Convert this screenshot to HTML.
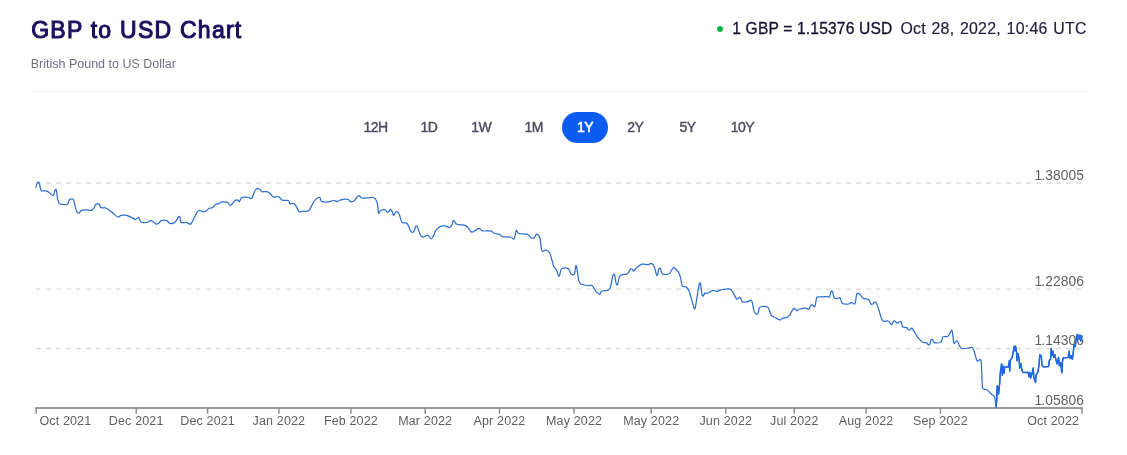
<!DOCTYPE html>
<html><head><meta charset="utf-8"><title>GBP to USD Chart</title>
<style>
html,body{margin:0;padding:0;background:#fff;}
body{width:1127px;height:455px;position:relative;overflow:hidden;font-family:"Liberation Sans",sans-serif;}
.title{position:absolute;left:31.2px;top:15.1px;font-size:23px;line-height:30px;font-weight:normal;-webkit-text-stroke:1.05px #1c0f5e;color:#1c0f5e;white-space:nowrap;letter-spacing:1.25px;}
.sub{position:absolute;left:30.7px;top:55.8px;font-size:12.5px;line-height:16px;color:#6c7080;white-space:nowrap;}
.rate{position:absolute;top:18px;font-size:16px;line-height:22px;color:#15122e;white-space:nowrap;}
.rate.a{left:732.3px;top:17.8px;font-size:15.6px;letter-spacing:0.16px;-webkit-text-stroke:0.3px #15122e;}
.rate.b{left:900.4px;top:17.5px;font-size:15.9px;letter-spacing:0.26px;word-spacing:0.9px;color:#1f1d3a;-webkit-text-stroke:0.18px #1f1d3a;}
.dot{position:absolute;left:717px;top:26px;width:6px;height:6px;border-radius:50%;background:#16b040;}
.hr{position:absolute;left:31px;top:91px;width:1056px;height:1px;background:#efeff1;}
.btn{position:absolute;top:112.4px;height:30px;line-height:30px;font-size:14px;letter-spacing:-0.55px;color:#514c63;text-align:center;width:60px;margin-left:-30px;-webkit-text-stroke:0.42px #514c63;white-space:nowrap;}
.btn.sel{color:#fff;-webkit-text-stroke:0.55px #fff;}
.pill{position:absolute;left:561.8px;top:111.8px;width:46.4px;height:30.8px;border-radius:15.4px;background:#0b5df1;}
.chart{position:absolute;left:0;top:0;}
#wrap{position:absolute;left:0;top:0;width:1127px;height:455px;will-change:transform;}
.xl{font-family:"Liberation Sans",sans-serif;font-size:12.5px;letter-spacing:0.15px;fill:#5f5f5f;}
.yl{font-family:"Liberation Sans",sans-serif;font-size:13.8px;fill:#616161;}
</style></head><body>
<div id="wrap"><div class="title">GBP to USD Chart</div>
<div class="sub">British Pound to US Dollar</div>
<div class="dot"></div>
<div class="rate a">1 GBP = 1.15376 USD</div>
<div class="rate b">Oct 28, 2022, 10:46 UTC</div>
<div class="hr"></div>
<div class="pill"></div>
<div class="btn" style="left:375.5px">12H</div>
<div class="btn" style="left:429px">1D</div>
<div class="btn" style="left:481.1px">1W</div>
<div class="btn" style="left:533.6px">1M</div>
<div class="btn sel" style="left:585px">1Y</div>
<div class="btn" style="left:635.3px">2Y</div>
<div class="btn" style="left:687.5px">5Y</div>
<div class="btn" style="left:742.5px">10Y</div>
<svg class="chart" width="1127" height="455" viewBox="0 0 1127 455">
<line x1="36.1" y1="183.0" x2="1081" y2="183.0" stroke="#dadada" stroke-width="1.45" stroke-dasharray="4.8 5.2"/>
<line x1="36.1" y1="289.1" x2="1081" y2="289.1" stroke="#dadada" stroke-width="1.45" stroke-dasharray="4.8 5.2"/>
<line x1="36.1" y1="348.5" x2="1081" y2="348.5" stroke="#dadada" stroke-width="1.45" stroke-dasharray="4.8 5.2"/>
<line x1="35.2" y1="408" x2="1083" y2="408" stroke="#9a9a9a" stroke-width="1.9"/>
<line x1="36.2" y1="408" x2="36.2" y2="413.7" stroke="#8c8c8c" stroke-width="1.5"/>
<line x1="136.2" y1="408" x2="136.2" y2="413.7" stroke="#8c8c8c" stroke-width="1.5"/>
<line x1="207.6" y1="408" x2="207.6" y2="413.7" stroke="#8c8c8c" stroke-width="1.5"/>
<line x1="278.9" y1="408" x2="278.9" y2="413.7" stroke="#8c8c8c" stroke-width="1.5"/>
<line x1="350.9" y1="408" x2="350.9" y2="413.7" stroke="#8c8c8c" stroke-width="1.5"/>
<line x1="425.2" y1="408" x2="425.2" y2="413.7" stroke="#8c8c8c" stroke-width="1.5"/>
<line x1="499.5" y1="408" x2="499.5" y2="413.7" stroke="#8c8c8c" stroke-width="1.5"/>
<line x1="574.1" y1="408" x2="574.1" y2="413.7" stroke="#8c8c8c" stroke-width="1.5"/>
<line x1="651.2" y1="408" x2="651.2" y2="413.7" stroke="#8c8c8c" stroke-width="1.5"/>
<line x1="725.8" y1="408" x2="725.8" y2="413.7" stroke="#8c8c8c" stroke-width="1.5"/>
<line x1="794.3" y1="408" x2="794.3" y2="413.7" stroke="#8c8c8c" stroke-width="1.5"/>
<line x1="866.1" y1="408" x2="866.1" y2="413.7" stroke="#8c8c8c" stroke-width="1.5"/>
<line x1="940.4" y1="408" x2="940.4" y2="413.7" stroke="#8c8c8c" stroke-width="1.5"/>
<line x1="1082" y1="408" x2="1082" y2="413.7" stroke="#8c8c8c" stroke-width="1.5"/>
<text x="39.4" y="424.6" class="xl" text-anchor="start">Oct 2021</text>
<text x="136.2" y="424.6" class="xl" text-anchor="middle">Dec 2021</text>
<text x="207.6" y="424.6" class="xl" text-anchor="middle">Dec 2021</text>
<text x="278.9" y="424.6" class="xl" text-anchor="middle">Jan 2022</text>
<text x="350.9" y="424.6" class="xl" text-anchor="middle">Feb 2022</text>
<text x="425.2" y="424.6" class="xl" text-anchor="middle">Mar 2022</text>
<text x="499.5" y="424.6" class="xl" text-anchor="middle">Apr 2022</text>
<text x="574.1" y="424.6" class="xl" text-anchor="middle">May 2022</text>
<text x="651.2" y="424.6" class="xl" text-anchor="middle">May 2022</text>
<text x="725.8" y="424.6" class="xl" text-anchor="middle">Jun 2022</text>
<text x="794.3" y="424.6" class="xl" text-anchor="middle">Jul 2022</text>
<text x="866.1" y="424.6" class="xl" text-anchor="middle">Aug 2022</text>
<text x="940.4" y="424.6" class="xl" text-anchor="middle">Sep 2022</text>
<text x="1079.2" y="424.6" class="xl" text-anchor="end">Oct 2022</text>
<text x="1034.4 1041.25 1045.2 1052.97 1060.74 1068.51 1076.28" y="179.8" class="yl">1.38005</text>
<text x="1034.4 1041.25 1045.2 1052.97 1060.74 1068.51 1076.28" y="285.8" class="yl">1.22806</text>
<text x="1034.4 1041.25 1045.2 1052.97 1060.74 1068.51 1076.28" y="344.8" class="yl">1.14306</text>
<text x="1034.4 1041.25 1045.2 1052.97 1060.74 1068.51 1076.28" y="404.8" class="yl">1.05806</text>
<defs><clipPath id="tail"><rect x="996" y="150" width="131" height="270"/></clipPath></defs>
<path d="M35.9,187.4 C36.2,186.6 37.0,183.6 37.5,182.8 C38.0,182.0 38.7,182.0 39.2,182.8 C39.7,183.6 39.9,186.4 40.3,187.7 C40.7,189.0 40.5,190.3 41.5,190.8 C42.5,191.3 44.7,190.5 46.0,190.8 C47.3,191.1 48.3,191.9 49.5,192.7 C50.7,193.5 52.2,196.0 53.1,195.7 C54.0,195.4 54.3,191.9 54.8,190.9 C55.3,189.9 55.8,188.7 56.3,189.9 C56.8,191.2 57.0,196.1 57.5,198.4 C58.0,200.7 58.4,202.7 59.3,203.7 C60.2,204.7 61.4,204.2 62.8,204.3 C64.2,204.4 66.5,205.1 67.6,204.3 C68.7,203.6 68.4,200.6 69.4,199.8 C70.4,199.1 72.5,198.6 73.5,199.8 C74.5,201.1 74.7,205.2 75.3,207.3 C75.9,209.4 76.3,211.2 77.0,212.2 C77.7,213.2 78.5,213.4 79.3,213.1 C80.0,212.8 80.2,210.8 81.5,210.3 C82.8,209.8 85.2,209.9 86.8,209.9 C88.4,209.9 90.0,210.6 91.2,210.3 C92.4,210.0 93.2,209.1 93.9,208.2 C94.7,207.2 94.8,205.3 95.7,204.6 C96.6,203.9 98.3,203.6 99.2,204.1 C100.1,204.6 100.0,207.0 101.0,207.6 C102.0,208.2 104.1,207.4 105.4,207.8 C106.7,208.2 107.7,209.0 109.0,209.9 C110.3,210.8 111.9,212.3 113.4,213.5 C114.9,214.7 116.5,216.7 117.8,217.0 C119.1,217.3 119.9,215.6 121.4,215.3 C122.9,215.0 125.1,215.0 126.7,215.3 C128.3,215.7 129.7,216.7 131.2,217.4 C132.7,218.1 134.4,219.3 135.6,219.3 C136.8,219.3 137.7,217.2 138.6,217.6 C139.5,218.0 139.5,221.2 140.9,222.0 C142.3,222.8 145.5,222.6 147.1,222.4 C148.7,222.2 149.7,220.7 150.7,220.6 C151.7,220.5 152.4,221.4 153.3,222.0 C154.2,222.6 155.5,223.9 156.4,224.1 C157.3,224.3 157.9,223.8 158.7,223.2 C159.5,222.6 160.0,221.0 161.3,220.6 C162.6,220.2 165.1,220.1 166.6,220.6 C168.1,221.1 169.0,223.2 170.2,223.6 C171.4,224.0 172.7,223.4 173.7,222.9 C174.7,222.4 175.6,221.7 176.4,220.6 C177.2,219.5 178.1,217.0 178.7,216.5 C179.3,216.0 179.6,216.6 180.0,217.6 C180.4,218.6 180.2,221.6 181.2,222.4 C182.2,223.2 184.6,222.1 186.2,222.4 C187.8,222.7 189.4,224.6 190.6,224.1 C191.8,223.6 192.3,221.6 193.3,219.7 C194.3,217.8 195.9,214.1 196.8,212.6 C197.7,211.1 197.6,210.7 198.9,210.5 C200.2,210.3 203.1,212.1 204.8,211.7 C206.5,211.3 207.9,208.9 209.2,208.2 C210.5,207.5 211.8,208.2 212.8,207.6 C213.8,207.0 214.4,205.2 215.4,204.6 C216.4,203.9 217.9,204.1 219.0,203.7 C220.1,203.2 220.4,202.1 221.7,201.9 C223.0,201.7 225.9,202.2 227.0,202.3 C228.0,202.4 227.4,202.0 228.0,202.5 C228.6,203.0 229.4,205.8 230.6,205.5 C231.8,205.2 233.9,201.4 235.1,200.5 C236.3,199.6 237.0,200.0 237.7,200.2 C238.4,200.4 238.8,202.0 239.5,201.6 C240.2,201.2 240.2,198.2 241.7,197.5 C243.2,196.8 246.7,197.4 248.4,197.5 C250.1,197.6 250.7,199.3 251.9,198.0 C253.1,196.7 254.2,191.4 255.5,189.9 C256.8,188.4 258.9,188.7 259.9,189.0 C260.9,189.3 260.5,191.2 261.7,191.7 C262.9,192.1 265.5,191.3 267.0,191.7 C268.5,192.1 269.6,193.1 270.6,194.0 C271.6,194.9 271.9,196.6 273.2,197.0 C274.5,197.4 277.1,196.1 278.6,196.6 C280.1,197.1 280.5,199.5 282.1,200.2 C283.7,200.8 287.0,199.8 288.3,200.5 C289.6,201.2 289.2,203.6 290.1,204.1 C291.0,204.6 292.6,203.0 293.6,203.4 C294.6,203.8 295.4,205.0 296.3,206.4 C297.2,207.8 298.0,210.9 299.0,211.7 C300.0,212.5 300.9,211.5 302.5,211.3 C304.1,211.2 307.2,211.6 308.7,210.8 C310.2,210.0 310.4,208.2 311.4,206.4 C312.4,204.6 313.7,201.7 314.9,200.2 C316.1,198.7 317.6,197.9 318.5,197.5 C319.4,197.1 319.8,197.3 320.3,198.0 C320.8,198.7 320.3,200.8 321.5,201.4 C322.8,202.1 326.3,202.1 328.3,201.9 C330.3,201.8 332.1,200.6 333.6,200.5 C335.1,200.4 335.9,201.7 337.1,201.6 C338.3,201.5 338.9,200.2 340.7,199.8 C342.5,199.4 346.2,199.0 347.8,199.3 C349.4,199.6 349.4,201.3 350.4,201.6 C351.4,201.9 353.0,201.8 354.0,201.1 C355.0,200.4 355.7,198.4 356.6,197.5 C357.5,196.6 358.4,195.6 359.3,195.7 C360.2,195.8 359.8,197.7 362.0,198.0 C364.2,198.3 370.4,197.3 372.6,197.5 C374.8,197.7 374.5,197.9 375.3,198.9 C376.1,199.9 376.9,201.4 377.4,203.7 C377.9,206.0 378.0,211.8 378.5,212.9 C379.0,214.0 379.5,211.0 380.6,210.5 C381.7,210.0 383.8,209.6 385.0,209.9 C386.2,210.2 386.8,212.7 387.7,212.6 C388.6,212.5 389.7,209.8 390.4,209.4 C391.1,209.1 391.3,209.5 391.8,210.5 C392.3,211.5 393.0,215.0 393.6,215.3 C394.2,215.7 394.7,213.2 395.3,212.6 C395.9,212.0 396.8,211.2 397.5,211.7 C398.2,212.1 398.9,213.5 399.6,215.3 C400.3,217.1 400.8,221.1 401.9,222.4 C403.0,223.7 405.2,222.3 406.3,222.9 C407.4,223.5 407.8,224.5 408.5,225.9 C409.2,227.3 410.0,230.2 410.8,231.2 C411.6,232.2 412.6,232.8 413.4,232.1 C414.2,231.4 415.0,227.7 415.6,226.8 C416.2,225.9 416.5,225.4 417.3,226.8 C418.1,228.2 419.6,233.7 420.6,235.4 C421.6,237.1 422.0,237.0 423.2,237.0 C424.4,237.0 426.6,235.1 427.9,235.4 C429.2,235.7 430.1,238.8 431.1,238.8 C432.1,238.8 432.8,236.9 433.7,235.4 C434.6,233.9 434.8,231.2 436.4,229.6 C437.9,228.0 440.8,225.9 443.0,225.6 C445.2,225.2 448.1,227.7 449.6,227.5 C451.1,227.3 451.6,225.5 452.2,224.3 C452.8,223.1 452.7,220.3 453.5,220.3 C454.3,220.3 455.0,223.4 457.0,224.3 C459.0,225.2 463.3,224.7 465.4,225.6 C467.5,226.5 468.3,228.5 469.4,229.6 C470.5,230.7 470.9,232.1 472.0,232.2 C473.1,232.3 474.8,230.8 476.0,230.1 C477.2,229.4 478.0,228.2 479.1,228.3 C480.2,228.4 480.7,230.5 482.6,230.9 C484.5,231.3 488.5,230.5 490.5,230.9 C492.5,231.3 492.9,232.9 494.4,233.5 C495.9,234.1 498.4,233.8 499.7,234.3 C501.0,234.8 500.5,236.2 502.3,236.7 C504.1,237.1 508.3,236.7 510.3,237.0 C512.3,237.3 513.2,239.9 514.2,238.8 C515.2,237.7 515.5,231.3 516.3,230.4 C517.0,229.5 516.9,232.8 518.7,233.5 C520.6,234.2 525.3,233.6 527.4,234.3 C529.5,235.1 530.2,237.5 531.4,238.0 C532.6,238.5 533.6,238.2 534.5,237.5 C535.4,236.8 535.7,234.1 536.6,234.1 C537.5,234.1 538.9,234.7 539.8,237.5 C540.7,240.3 540.9,248.6 541.9,250.7 C542.9,252.8 544.6,249.5 545.9,249.9 C547.2,250.3 548.5,250.5 549.8,253.3 C551.1,256.1 552.7,263.7 553.8,266.5 C554.9,269.3 555.5,268.3 556.4,269.9 C557.3,271.5 558.2,276.5 559.1,276.3 C560.0,276.1 560.2,269.9 561.7,268.6 C563.2,267.3 566.8,267.7 568.3,268.6 C569.8,269.5 569.9,273.0 570.9,273.9 C571.9,274.8 573.5,275.3 574.4,273.9 C575.3,272.5 575.5,264.5 576.2,265.7 C577.0,266.9 578.0,277.9 578.9,281.0 C579.8,284.1 580.0,283.4 581.5,284.2 C583.0,284.9 586.3,285.3 588.1,285.5 C589.9,285.7 590.8,284.5 592.1,285.5 C593.4,286.5 594.8,290.2 596.0,291.6 C597.2,293.1 598.7,293.8 599.4,294.2 C600.0,294.6 599.6,294.7 600.0,294.2 C600.4,293.7 600.5,291.6 601.8,291.0 C603.1,290.4 606.5,291.1 608.0,290.4 C609.5,289.6 609.9,288.9 610.7,286.5 C611.5,284.1 612.1,277.7 612.8,275.8 C613.4,273.9 614.1,273.7 614.6,274.9 C615.1,276.1 615.5,281.3 616.0,282.9 C616.5,284.5 617.0,285.6 617.5,284.7 C618.0,283.8 618.6,279.2 619.2,277.6 C619.9,276.0 620.0,275.5 621.4,274.9 C622.8,274.2 626.1,274.6 627.6,273.7 C629.1,272.8 629.5,269.9 630.3,269.2 C631.0,268.4 631.5,268.9 632.1,269.2 C632.7,269.5 633.1,271.2 633.8,271.0 C634.5,270.8 635.1,268.9 636.5,267.8 C637.9,266.7 640.0,264.7 641.9,264.2 C643.8,263.7 646.5,264.7 648.1,264.6 C649.7,264.5 650.6,263.0 651.6,263.4 C652.6,263.8 653.5,265.0 654.3,266.9 C655.1,268.8 656.0,273.7 656.6,274.9 C657.2,276.1 657.5,275.0 657.9,274.0 C658.3,273.0 658.3,269.6 658.8,268.7 C659.2,267.8 660.0,267.9 660.6,268.7 C661.2,269.5 661.0,272.8 662.3,273.7 C663.6,274.6 667.1,274.4 668.6,274.0 C670.1,273.6 670.4,272.1 671.2,271.0 C672.0,269.9 672.9,267.8 673.6,267.5 C674.4,267.2 674.8,268.2 675.7,269.2 C676.7,270.2 678.3,271.4 679.3,273.7 C680.3,276.0 681.1,280.8 681.6,282.9 C682.1,285.0 681.7,285.5 682.5,286.2 C683.3,286.9 685.3,286.1 686.4,286.9 C687.5,287.7 688.1,288.8 689.0,291.0 C689.9,293.2 690.9,297.1 691.7,299.9 C692.5,302.7 693.4,306.7 694.0,307.9 C694.6,309.1 694.7,309.7 695.3,307.3 C695.9,304.9 696.9,297.5 697.6,293.6 C698.3,289.7 698.9,285.4 699.4,283.8 C699.9,282.2 700.1,282.2 700.6,284.2 C701.1,286.2 701.6,294.3 702.4,295.8 C703.1,297.3 704.2,293.6 705.1,293.1 C706.0,292.7 706.4,293.6 707.7,293.1 C709.0,292.7 711.6,290.7 713.1,290.4 C714.6,290.1 715.1,291.4 716.7,291.3 C718.3,291.2 720.8,289.9 722.9,289.5 C725.0,289.1 727.6,288.6 729.1,288.8 C730.6,289.0 730.9,289.5 731.8,290.6 C732.7,291.7 733.7,293.9 734.5,295.4 C735.3,296.8 736.1,298.9 736.8,299.3 C737.5,299.7 738.2,297.8 738.9,297.6 C739.5,297.4 740.1,297.4 740.7,298.1 C741.3,298.8 741.3,301.4 742.5,302.0 C743.7,302.6 746.3,301.8 747.8,301.6 C749.3,301.4 750.7,299.2 751.7,300.8 C752.8,302.4 753.3,309.2 754.1,311.4 C754.9,313.6 755.7,313.8 756.4,314.1 C757.1,314.4 757.6,314.2 758.1,313.2 C758.6,312.2 758.7,309.0 759.4,307.9 C760.1,306.8 760.8,306.6 762.1,306.5 C763.4,306.4 766.2,306.3 767.4,307.0 C768.6,307.7 768.9,309.2 769.5,310.6 C770.1,312.0 770.3,314.3 771.3,315.5 C772.3,316.7 774.0,316.9 775.4,317.7 C776.8,318.4 778.7,319.9 779.9,320.0 C781.1,320.1 781.4,318.6 782.5,318.2 C783.6,317.8 785.4,318.2 786.6,317.7 C787.8,317.2 789.1,315.5 789.7,315.0 C790.0,314.5 789.7,315.7 790.0,314.7 C790.6,313.7 792.4,309.9 793.2,308.9 C794.0,307.9 794.4,308.6 795.0,308.9 C795.6,309.2 796.3,310.8 797.1,310.8 C797.9,310.8 798.3,309.4 799.8,309.0 C801.3,308.6 804.5,308.0 806.0,308.1 C807.5,308.2 808.0,309.8 808.7,309.4 C809.5,309.0 809.9,306.6 810.5,305.8 C811.1,305.1 811.6,304.8 812.3,304.9 C813.0,305.0 814.2,307.6 814.9,306.4 C815.6,305.2 816.0,299.4 816.7,297.8 C817.5,296.2 817.6,297.1 819.4,296.9 C821.2,296.7 825.7,296.6 827.4,296.6 C829.1,296.6 828.9,297.7 829.5,296.9 C830.1,296.1 830.5,292.5 831.0,291.6 C831.5,290.7 831.9,290.6 832.4,291.6 C832.9,292.6 833.5,296.6 834.2,297.8 C834.9,299.0 835.8,298.7 836.7,298.7 C837.7,298.7 838.9,297.0 839.9,297.8 C840.9,298.6 841.0,302.5 842.5,303.5 C844.0,304.5 847.3,304.2 848.8,304.0 C850.3,303.8 850.4,302.4 851.4,302.3 C852.4,302.2 854.1,305.1 855.0,303.7 C855.9,302.3 855.9,295.4 856.8,293.9 C857.7,292.4 859.3,293.9 860.3,294.6 C861.3,295.3 861.6,297.5 863.0,298.3 C864.4,299.1 867.1,298.7 868.4,299.6 C869.7,300.6 870.3,303.3 871.0,304.0 C871.7,304.7 872.3,304.3 872.8,304.0 C873.3,303.7 873.5,302.4 874.1,302.3 C874.7,302.2 875.6,301.9 876.4,303.2 C877.2,304.5 878.0,307.4 879.0,310.3 C880.0,313.2 881.1,318.8 882.6,320.6 C884.1,322.4 886.7,320.5 888.0,321.0 C889.3,321.5 890.0,323.0 890.6,323.6 C891.2,324.2 891.3,325.0 891.9,324.5 C892.5,324.0 893.4,320.8 894.2,320.6 C895.0,320.4 896.1,322.9 896.9,323.1 C897.7,323.3 898.3,322.1 899.0,321.9 C899.7,321.7 900.7,321.1 901.3,321.9 C901.9,322.7 901.7,325.8 902.6,326.7 C903.5,327.6 905.6,327.0 906.7,327.6 C907.8,328.2 908.1,330.1 909.0,330.2 C909.9,330.3 911.0,327.7 912.0,328.1 C913.0,328.5 913.7,330.9 914.7,332.5 C915.7,334.1 916.9,336.3 918.2,337.9 C919.5,339.5 921.4,341.5 922.7,342.3 C924.0,343.1 925.2,342.2 926.2,342.7 C927.2,343.1 928.0,344.8 928.6,345.0 C929.2,345.2 929.4,345.0 929.8,344.1 C930.2,343.2 930.6,340.4 931.1,339.7 C931.6,339.0 931.9,339.2 932.5,339.7 C933.1,340.2 933.2,342.3 934.6,342.7 C936.0,343.1 939.6,342.9 941.0,342.0 C942.4,341.1 941.7,337.9 942.8,337.0 C943.9,336.1 946.4,337.2 947.6,336.5 C948.9,335.8 949.5,333.4 950.3,332.5 C951.0,331.6 951.5,329.1 952.1,330.8 C952.7,332.5 953.3,340.8 953.8,342.7 C954.3,344.6 954.7,342.6 955.3,342.3 C955.9,342.0 956.7,340.3 957.4,340.9 C958.1,341.5 958.8,344.6 959.5,345.9 C960.2,347.2 960.4,348.2 961.9,348.6 C963.4,349.0 966.9,348.2 968.6,348.0 C970.3,347.8 971.3,347.1 972.2,347.5 C973.1,347.9 973.4,349.1 974.0,350.7 C974.6,352.3 975.2,355.4 975.8,357.1 C976.3,358.8 976.4,360.5 977.3,361.0 C978.1,361.5 980.1,358.2 980.9,360.3 C981.6,362.4 981.5,368.7 981.8,373.3 C982.1,377.9 981.9,385.4 982.7,388.1 C983.5,390.8 985.2,388.5 986.6,389.5 C988.0,390.5 989.8,392.6 991.2,394.0 C992.6,395.4 994.0,395.4 994.8,397.7 C995.6,400.0 995.7,407.5 996.0,407.6 L996.8,398.6 L997.1,385.9 L998.0,387.7 L998.6,394.0 L999.6,384.1 L1000.4,371.5 L1001.6,363.9 L1002.3,375.1 L1003.1,366.1 L1004.0,373.3 L1004.7,367.0 L1008.3,367.0 L1009.4,360.7 L1009.7,371.1 L1010.5,359.8 L1012.3,357.1 L1014.1,346.6 L1014.8,350.7 L1015.5,345.9 L1016.6,352.6 L1017.0,360.7 L1018.0,353.5 L1019.1,358.9 L1019.7,367.9 L1020.9,363.4 L1021.6,368.8 L1022.7,372.4 L1028.1,372.4 L1029.0,376.9 L1029.9,372.4 L1030.8,377.8 L1032.1,373.3 L1033.2,367.9 L1033.9,378.7 L1034.4,379.1 L1035.5,382.4 L1036.2,374.6 L1038.0,371.9 L1039.1,363.8 L1039.8,354.8 L1041.2,355.7 L1042.1,365.6 L1043.9,366.9 L1048.5,366.5 L1049.4,360.2 L1050.6,359.3 L1051.2,348.5 L1052.1,355.7 L1053.1,351.2 L1053.9,357.5 L1054.9,354.8 L1056.0,360.2 L1057.1,363.8 L1058.6,357.5 L1059.3,365.6 L1060.7,362.9 L1061.8,372.8 L1062.5,361.1 L1063.2,357.8 L1068.3,357.5 L1069.0,351.2 L1070.1,358.4 L1071.2,355.7 L1072.3,359.3 L1073.3,352.1 L1074.1,344.8 L1075.2,346.6 L1076.6,335.8 L1077.7,334.4 L1078.8,338.5 L1079.8,335.8 L1080.9,341.2" fill="none" stroke="#2e6fce" stroke-width="1.25" stroke-linejoin="round" stroke-linecap="round"/>
<path d="M35.9,187.4 C36.2,186.6 37.0,183.6 37.5,182.8 C38.0,182.0 38.7,182.0 39.2,182.8 C39.7,183.6 39.9,186.4 40.3,187.7 C40.7,189.0 40.5,190.3 41.5,190.8 C42.5,191.3 44.7,190.5 46.0,190.8 C47.3,191.1 48.3,191.9 49.5,192.7 C50.7,193.5 52.2,196.0 53.1,195.7 C54.0,195.4 54.3,191.9 54.8,190.9 C55.3,189.9 55.8,188.7 56.3,189.9 C56.8,191.2 57.0,196.1 57.5,198.4 C58.0,200.7 58.4,202.7 59.3,203.7 C60.2,204.7 61.4,204.2 62.8,204.3 C64.2,204.4 66.5,205.1 67.6,204.3 C68.7,203.6 68.4,200.6 69.4,199.8 C70.4,199.1 72.5,198.6 73.5,199.8 C74.5,201.1 74.7,205.2 75.3,207.3 C75.9,209.4 76.3,211.2 77.0,212.2 C77.7,213.2 78.5,213.4 79.3,213.1 C80.0,212.8 80.2,210.8 81.5,210.3 C82.8,209.8 85.2,209.9 86.8,209.9 C88.4,209.9 90.0,210.6 91.2,210.3 C92.4,210.0 93.2,209.1 93.9,208.2 C94.7,207.2 94.8,205.3 95.7,204.6 C96.6,203.9 98.3,203.6 99.2,204.1 C100.1,204.6 100.0,207.0 101.0,207.6 C102.0,208.2 104.1,207.4 105.4,207.8 C106.7,208.2 107.7,209.0 109.0,209.9 C110.3,210.8 111.9,212.3 113.4,213.5 C114.9,214.7 116.5,216.7 117.8,217.0 C119.1,217.3 119.9,215.6 121.4,215.3 C122.9,215.0 125.1,215.0 126.7,215.3 C128.3,215.7 129.7,216.7 131.2,217.4 C132.7,218.1 134.4,219.3 135.6,219.3 C136.8,219.3 137.7,217.2 138.6,217.6 C139.5,218.0 139.5,221.2 140.9,222.0 C142.3,222.8 145.5,222.6 147.1,222.4 C148.7,222.2 149.7,220.7 150.7,220.6 C151.7,220.5 152.4,221.4 153.3,222.0 C154.2,222.6 155.5,223.9 156.4,224.1 C157.3,224.3 157.9,223.8 158.7,223.2 C159.5,222.6 160.0,221.0 161.3,220.6 C162.6,220.2 165.1,220.1 166.6,220.6 C168.1,221.1 169.0,223.2 170.2,223.6 C171.4,224.0 172.7,223.4 173.7,222.9 C174.7,222.4 175.6,221.7 176.4,220.6 C177.2,219.5 178.1,217.0 178.7,216.5 C179.3,216.0 179.6,216.6 180.0,217.6 C180.4,218.6 180.2,221.6 181.2,222.4 C182.2,223.2 184.6,222.1 186.2,222.4 C187.8,222.7 189.4,224.6 190.6,224.1 C191.8,223.6 192.3,221.6 193.3,219.7 C194.3,217.8 195.9,214.1 196.8,212.6 C197.7,211.1 197.6,210.7 198.9,210.5 C200.2,210.3 203.1,212.1 204.8,211.7 C206.5,211.3 207.9,208.9 209.2,208.2 C210.5,207.5 211.8,208.2 212.8,207.6 C213.8,207.0 214.4,205.2 215.4,204.6 C216.4,203.9 217.9,204.1 219.0,203.7 C220.1,203.2 220.4,202.1 221.7,201.9 C223.0,201.7 225.9,202.2 227.0,202.3 C228.0,202.4 227.4,202.0 228.0,202.5 C228.6,203.0 229.4,205.8 230.6,205.5 C231.8,205.2 233.9,201.4 235.1,200.5 C236.3,199.6 237.0,200.0 237.7,200.2 C238.4,200.4 238.8,202.0 239.5,201.6 C240.2,201.2 240.2,198.2 241.7,197.5 C243.2,196.8 246.7,197.4 248.4,197.5 C250.1,197.6 250.7,199.3 251.9,198.0 C253.1,196.7 254.2,191.4 255.5,189.9 C256.8,188.4 258.9,188.7 259.9,189.0 C260.9,189.3 260.5,191.2 261.7,191.7 C262.9,192.1 265.5,191.3 267.0,191.7 C268.5,192.1 269.6,193.1 270.6,194.0 C271.6,194.9 271.9,196.6 273.2,197.0 C274.5,197.4 277.1,196.1 278.6,196.6 C280.1,197.1 280.5,199.5 282.1,200.2 C283.7,200.8 287.0,199.8 288.3,200.5 C289.6,201.2 289.2,203.6 290.1,204.1 C291.0,204.6 292.6,203.0 293.6,203.4 C294.6,203.8 295.4,205.0 296.3,206.4 C297.2,207.8 298.0,210.9 299.0,211.7 C300.0,212.5 300.9,211.5 302.5,211.3 C304.1,211.2 307.2,211.6 308.7,210.8 C310.2,210.0 310.4,208.2 311.4,206.4 C312.4,204.6 313.7,201.7 314.9,200.2 C316.1,198.7 317.6,197.9 318.5,197.5 C319.4,197.1 319.8,197.3 320.3,198.0 C320.8,198.7 320.3,200.8 321.5,201.4 C322.8,202.1 326.3,202.1 328.3,201.9 C330.3,201.8 332.1,200.6 333.6,200.5 C335.1,200.4 335.9,201.7 337.1,201.6 C338.3,201.5 338.9,200.2 340.7,199.8 C342.5,199.4 346.2,199.0 347.8,199.3 C349.4,199.6 349.4,201.3 350.4,201.6 C351.4,201.9 353.0,201.8 354.0,201.1 C355.0,200.4 355.7,198.4 356.6,197.5 C357.5,196.6 358.4,195.6 359.3,195.7 C360.2,195.8 359.8,197.7 362.0,198.0 C364.2,198.3 370.4,197.3 372.6,197.5 C374.8,197.7 374.5,197.9 375.3,198.9 C376.1,199.9 376.9,201.4 377.4,203.7 C377.9,206.0 378.0,211.8 378.5,212.9 C379.0,214.0 379.5,211.0 380.6,210.5 C381.7,210.0 383.8,209.6 385.0,209.9 C386.2,210.2 386.8,212.7 387.7,212.6 C388.6,212.5 389.7,209.8 390.4,209.4 C391.1,209.1 391.3,209.5 391.8,210.5 C392.3,211.5 393.0,215.0 393.6,215.3 C394.2,215.7 394.7,213.2 395.3,212.6 C395.9,212.0 396.8,211.2 397.5,211.7 C398.2,212.1 398.9,213.5 399.6,215.3 C400.3,217.1 400.8,221.1 401.9,222.4 C403.0,223.7 405.2,222.3 406.3,222.9 C407.4,223.5 407.8,224.5 408.5,225.9 C409.2,227.3 410.0,230.2 410.8,231.2 C411.6,232.2 412.6,232.8 413.4,232.1 C414.2,231.4 415.0,227.7 415.6,226.8 C416.2,225.9 416.5,225.4 417.3,226.8 C418.1,228.2 419.6,233.7 420.6,235.4 C421.6,237.1 422.0,237.0 423.2,237.0 C424.4,237.0 426.6,235.1 427.9,235.4 C429.2,235.7 430.1,238.8 431.1,238.8 C432.1,238.8 432.8,236.9 433.7,235.4 C434.6,233.9 434.8,231.2 436.4,229.6 C437.9,228.0 440.8,225.9 443.0,225.6 C445.2,225.2 448.1,227.7 449.6,227.5 C451.1,227.3 451.6,225.5 452.2,224.3 C452.8,223.1 452.7,220.3 453.5,220.3 C454.3,220.3 455.0,223.4 457.0,224.3 C459.0,225.2 463.3,224.7 465.4,225.6 C467.5,226.5 468.3,228.5 469.4,229.6 C470.5,230.7 470.9,232.1 472.0,232.2 C473.1,232.3 474.8,230.8 476.0,230.1 C477.2,229.4 478.0,228.2 479.1,228.3 C480.2,228.4 480.7,230.5 482.6,230.9 C484.5,231.3 488.5,230.5 490.5,230.9 C492.5,231.3 492.9,232.9 494.4,233.5 C495.9,234.1 498.4,233.8 499.7,234.3 C501.0,234.8 500.5,236.2 502.3,236.7 C504.1,237.1 508.3,236.7 510.3,237.0 C512.3,237.3 513.2,239.9 514.2,238.8 C515.2,237.7 515.5,231.3 516.3,230.4 C517.0,229.5 516.9,232.8 518.7,233.5 C520.6,234.2 525.3,233.6 527.4,234.3 C529.5,235.1 530.2,237.5 531.4,238.0 C532.6,238.5 533.6,238.2 534.5,237.5 C535.4,236.8 535.7,234.1 536.6,234.1 C537.5,234.1 538.9,234.7 539.8,237.5 C540.7,240.3 540.9,248.6 541.9,250.7 C542.9,252.8 544.6,249.5 545.9,249.9 C547.2,250.3 548.5,250.5 549.8,253.3 C551.1,256.1 552.7,263.7 553.8,266.5 C554.9,269.3 555.5,268.3 556.4,269.9 C557.3,271.5 558.2,276.5 559.1,276.3 C560.0,276.1 560.2,269.9 561.7,268.6 C563.2,267.3 566.8,267.7 568.3,268.6 C569.8,269.5 569.9,273.0 570.9,273.9 C571.9,274.8 573.5,275.3 574.4,273.9 C575.3,272.5 575.5,264.5 576.2,265.7 C577.0,266.9 578.0,277.9 578.9,281.0 C579.8,284.1 580.0,283.4 581.5,284.2 C583.0,284.9 586.3,285.3 588.1,285.5 C589.9,285.7 590.8,284.5 592.1,285.5 C593.4,286.5 594.8,290.2 596.0,291.6 C597.2,293.1 598.7,293.8 599.4,294.2 C600.0,294.6 599.6,294.7 600.0,294.2 C600.4,293.7 600.5,291.6 601.8,291.0 C603.1,290.4 606.5,291.1 608.0,290.4 C609.5,289.6 609.9,288.9 610.7,286.5 C611.5,284.1 612.1,277.7 612.8,275.8 C613.4,273.9 614.1,273.7 614.6,274.9 C615.1,276.1 615.5,281.3 616.0,282.9 C616.5,284.5 617.0,285.6 617.5,284.7 C618.0,283.8 618.6,279.2 619.2,277.6 C619.9,276.0 620.0,275.5 621.4,274.9 C622.8,274.2 626.1,274.6 627.6,273.7 C629.1,272.8 629.5,269.9 630.3,269.2 C631.0,268.4 631.5,268.9 632.1,269.2 C632.7,269.5 633.1,271.2 633.8,271.0 C634.5,270.8 635.1,268.9 636.5,267.8 C637.9,266.7 640.0,264.7 641.9,264.2 C643.8,263.7 646.5,264.7 648.1,264.6 C649.7,264.5 650.6,263.0 651.6,263.4 C652.6,263.8 653.5,265.0 654.3,266.9 C655.1,268.8 656.0,273.7 656.6,274.9 C657.2,276.1 657.5,275.0 657.9,274.0 C658.3,273.0 658.3,269.6 658.8,268.7 C659.2,267.8 660.0,267.9 660.6,268.7 C661.2,269.5 661.0,272.8 662.3,273.7 C663.6,274.6 667.1,274.4 668.6,274.0 C670.1,273.6 670.4,272.1 671.2,271.0 C672.0,269.9 672.9,267.8 673.6,267.5 C674.4,267.2 674.8,268.2 675.7,269.2 C676.7,270.2 678.3,271.4 679.3,273.7 C680.3,276.0 681.1,280.8 681.6,282.9 C682.1,285.0 681.7,285.5 682.5,286.2 C683.3,286.9 685.3,286.1 686.4,286.9 C687.5,287.7 688.1,288.8 689.0,291.0 C689.9,293.2 690.9,297.1 691.7,299.9 C692.5,302.7 693.4,306.7 694.0,307.9 C694.6,309.1 694.7,309.7 695.3,307.3 C695.9,304.9 696.9,297.5 697.6,293.6 C698.3,289.7 698.9,285.4 699.4,283.8 C699.9,282.2 700.1,282.2 700.6,284.2 C701.1,286.2 701.6,294.3 702.4,295.8 C703.1,297.3 704.2,293.6 705.1,293.1 C706.0,292.7 706.4,293.6 707.7,293.1 C709.0,292.7 711.6,290.7 713.1,290.4 C714.6,290.1 715.1,291.4 716.7,291.3 C718.3,291.2 720.8,289.9 722.9,289.5 C725.0,289.1 727.6,288.6 729.1,288.8 C730.6,289.0 730.9,289.5 731.8,290.6 C732.7,291.7 733.7,293.9 734.5,295.4 C735.3,296.8 736.1,298.9 736.8,299.3 C737.5,299.7 738.2,297.8 738.9,297.6 C739.5,297.4 740.1,297.4 740.7,298.1 C741.3,298.8 741.3,301.4 742.5,302.0 C743.7,302.6 746.3,301.8 747.8,301.6 C749.3,301.4 750.7,299.2 751.7,300.8 C752.8,302.4 753.3,309.2 754.1,311.4 C754.9,313.6 755.7,313.8 756.4,314.1 C757.1,314.4 757.6,314.2 758.1,313.2 C758.6,312.2 758.7,309.0 759.4,307.9 C760.1,306.8 760.8,306.6 762.1,306.5 C763.4,306.4 766.2,306.3 767.4,307.0 C768.6,307.7 768.9,309.2 769.5,310.6 C770.1,312.0 770.3,314.3 771.3,315.5 C772.3,316.7 774.0,316.9 775.4,317.7 C776.8,318.4 778.7,319.9 779.9,320.0 C781.1,320.1 781.4,318.6 782.5,318.2 C783.6,317.8 785.4,318.2 786.6,317.7 C787.8,317.2 789.1,315.5 789.7,315.0 C790.0,314.5 789.7,315.7 790.0,314.7 C790.6,313.7 792.4,309.9 793.2,308.9 C794.0,307.9 794.4,308.6 795.0,308.9 C795.6,309.2 796.3,310.8 797.1,310.8 C797.9,310.8 798.3,309.4 799.8,309.0 C801.3,308.6 804.5,308.0 806.0,308.1 C807.5,308.2 808.0,309.8 808.7,309.4 C809.5,309.0 809.9,306.6 810.5,305.8 C811.1,305.1 811.6,304.8 812.3,304.9 C813.0,305.0 814.2,307.6 814.9,306.4 C815.6,305.2 816.0,299.4 816.7,297.8 C817.5,296.2 817.6,297.1 819.4,296.9 C821.2,296.7 825.7,296.6 827.4,296.6 C829.1,296.6 828.9,297.7 829.5,296.9 C830.1,296.1 830.5,292.5 831.0,291.6 C831.5,290.7 831.9,290.6 832.4,291.6 C832.9,292.6 833.5,296.6 834.2,297.8 C834.9,299.0 835.8,298.7 836.7,298.7 C837.7,298.7 838.9,297.0 839.9,297.8 C840.9,298.6 841.0,302.5 842.5,303.5 C844.0,304.5 847.3,304.2 848.8,304.0 C850.3,303.8 850.4,302.4 851.4,302.3 C852.4,302.2 854.1,305.1 855.0,303.7 C855.9,302.3 855.9,295.4 856.8,293.9 C857.7,292.4 859.3,293.9 860.3,294.6 C861.3,295.3 861.6,297.5 863.0,298.3 C864.4,299.1 867.1,298.7 868.4,299.6 C869.7,300.6 870.3,303.3 871.0,304.0 C871.7,304.7 872.3,304.3 872.8,304.0 C873.3,303.7 873.5,302.4 874.1,302.3 C874.7,302.2 875.6,301.9 876.4,303.2 C877.2,304.5 878.0,307.4 879.0,310.3 C880.0,313.2 881.1,318.8 882.6,320.6 C884.1,322.4 886.7,320.5 888.0,321.0 C889.3,321.5 890.0,323.0 890.6,323.6 C891.2,324.2 891.3,325.0 891.9,324.5 C892.5,324.0 893.4,320.8 894.2,320.6 C895.0,320.4 896.1,322.9 896.9,323.1 C897.7,323.3 898.3,322.1 899.0,321.9 C899.7,321.7 900.7,321.1 901.3,321.9 C901.9,322.7 901.7,325.8 902.6,326.7 C903.5,327.6 905.6,327.0 906.7,327.6 C907.8,328.2 908.1,330.1 909.0,330.2 C909.9,330.3 911.0,327.7 912.0,328.1 C913.0,328.5 913.7,330.9 914.7,332.5 C915.7,334.1 916.9,336.3 918.2,337.9 C919.5,339.5 921.4,341.5 922.7,342.3 C924.0,343.1 925.2,342.2 926.2,342.7 C927.2,343.1 928.0,344.8 928.6,345.0 C929.2,345.2 929.4,345.0 929.8,344.1 C930.2,343.2 930.6,340.4 931.1,339.7 C931.6,339.0 931.9,339.2 932.5,339.7 C933.1,340.2 933.2,342.3 934.6,342.7 C936.0,343.1 939.6,342.9 941.0,342.0 C942.4,341.1 941.7,337.9 942.8,337.0 C943.9,336.1 946.4,337.2 947.6,336.5 C948.9,335.8 949.5,333.4 950.3,332.5 C951.0,331.6 951.5,329.1 952.1,330.8 C952.7,332.5 953.3,340.8 953.8,342.7 C954.3,344.6 954.7,342.6 955.3,342.3 C955.9,342.0 956.7,340.3 957.4,340.9 C958.1,341.5 958.8,344.6 959.5,345.9 C960.2,347.2 960.4,348.2 961.9,348.6 C963.4,349.0 966.9,348.2 968.6,348.0 C970.3,347.8 971.3,347.1 972.2,347.5 C973.1,347.9 973.4,349.1 974.0,350.7 C974.6,352.3 975.2,355.4 975.8,357.1 C976.3,358.8 976.4,360.5 977.3,361.0 C978.1,361.5 980.1,358.2 980.9,360.3 C981.6,362.4 981.5,368.7 981.8,373.3 C982.1,377.9 981.9,385.4 982.7,388.1 C983.5,390.8 985.2,388.5 986.6,389.5 C988.0,390.5 989.8,392.6 991.2,394.0 C992.6,395.4 994.0,395.4 994.8,397.7 C995.6,400.0 995.7,407.5 996.0,407.6 L996.8,398.6 L997.1,385.9 L998.0,387.7 L998.6,394.0 L999.6,384.1 L1000.4,371.5 L1001.6,363.9 L1002.3,375.1 L1003.1,366.1 L1004.0,373.3 L1004.7,367.0 L1008.3,367.0 L1009.4,360.7 L1009.7,371.1 L1010.5,359.8 L1012.3,357.1 L1014.1,346.6 L1014.8,350.7 L1015.5,345.9 L1016.6,352.6 L1017.0,360.7 L1018.0,353.5 L1019.1,358.9 L1019.7,367.9 L1020.9,363.4 L1021.6,368.8 L1022.7,372.4 L1028.1,372.4 L1029.0,376.9 L1029.9,372.4 L1030.8,377.8 L1032.1,373.3 L1033.2,367.9 L1033.9,378.7 L1034.4,379.1 L1035.5,382.4 L1036.2,374.6 L1038.0,371.9 L1039.1,363.8 L1039.8,354.8 L1041.2,355.7 L1042.1,365.6 L1043.9,366.9 L1048.5,366.5 L1049.4,360.2 L1050.6,359.3 L1051.2,348.5 L1052.1,355.7 L1053.1,351.2 L1053.9,357.5 L1054.9,354.8 L1056.0,360.2 L1057.1,363.8 L1058.6,357.5 L1059.3,365.6 L1060.7,362.9 L1061.8,372.8 L1062.5,361.1 L1063.2,357.8 L1068.3,357.5 L1069.0,351.2 L1070.1,358.4 L1071.2,355.7 L1072.3,359.3 L1073.3,352.1 L1074.1,344.8 L1075.2,346.6 L1076.6,335.8 L1077.7,334.4 L1078.8,338.5 L1079.8,335.8 L1080.9,341.2" fill="none" stroke="#2169e0" stroke-width="1.5" stroke-linejoin="round" stroke-linecap="round" clip-path="url(#tail)"/>
<circle cx="1080" cy="337.2" r="2.6" fill="#2b6fe0"/>
</svg>
</div></body></html>
